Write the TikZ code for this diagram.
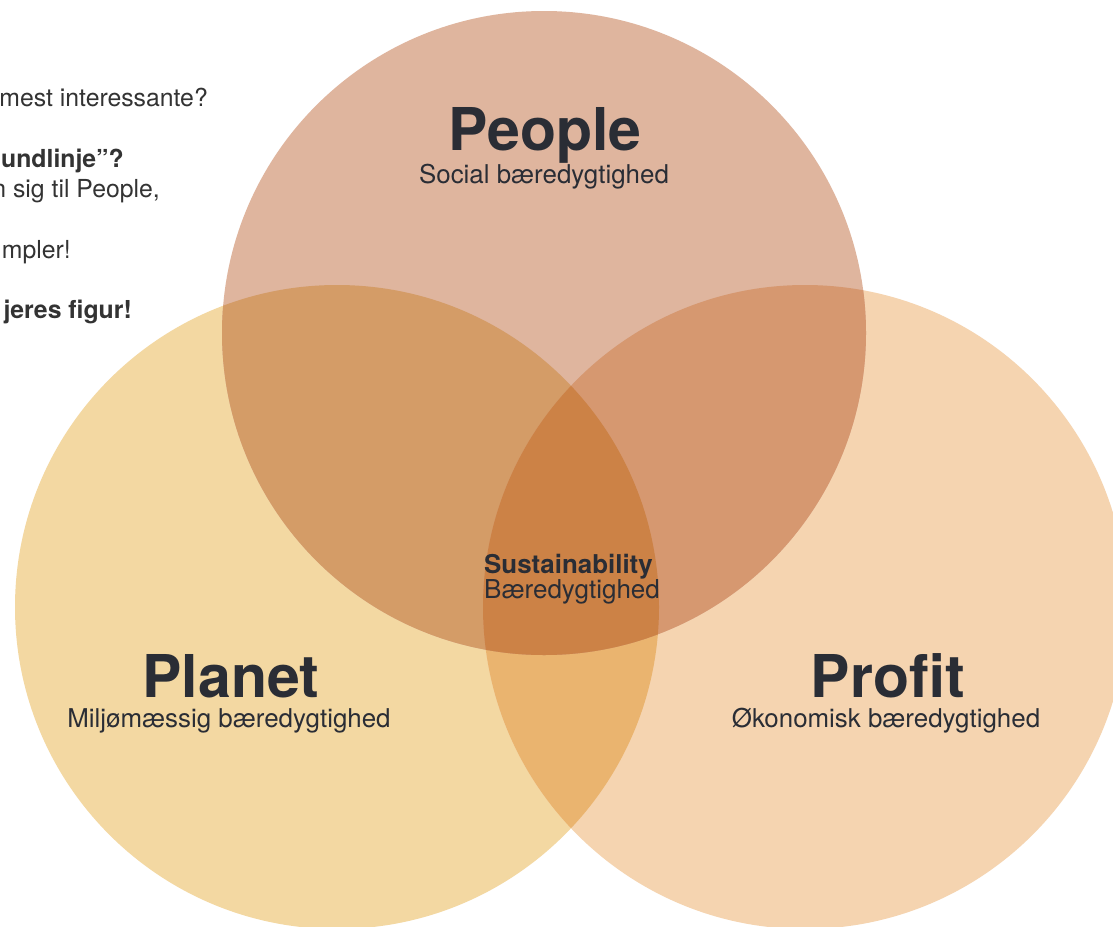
\documentclass[tikz,border=0pt]{standalone}
\usepackage{fontspec}
\setmainfont{TeX Gyre Heros}
\definecolor{peopleC}{HTML}{DFB59E}
\definecolor{planetC}{HTML}{F3D8A2}
\definecolor{profitC}{HTML}{F5D4B0}
\definecolor{peplanC}{HTML}{D49C67}
\definecolor{peprofC}{HTML}{D69870}
\definecolor{plprofC}{HTML}{EAB46F}
\definecolor{centerC}{HTML}{CC8246}
\definecolor{txtC}{HTML}{2A2D35}
\definecolor{sideC}{HTML}{333333}
\tikzset{
  big/.style={font=\fontsize{59}{61}\selectfont\bfseries, text=txtC, inner sep=0pt, anchor=base},
  sub/.style={font=\fontsize{25.9}{28}\selectfont, text=txtC, inner sep=0pt, anchor=base},
  midb/.style={font=\fontsize{25.9}{28}\selectfont\bfseries, text=txtC, inner sep=0pt, anchor=base west},
  midr/.style={font=\fontsize{26}{28}\selectfont, text=txtC, inner sep=0pt, anchor=base west},
  side/.style={font=\fontsize{24.8}{27}\selectfont, text=sideC, inner sep=0pt, anchor=base east},
  sideb/.style={side, font=\fontsize{24.8}{27}\selectfont\bfseries}
}
\begin{document}
\begin{tikzpicture}[x=1pt,y=-1pt]
\useasboundingbox (0,0) rectangle (1113,926);
\fill[white] (0,0) rectangle (1113,926);
\clip (0,0) rectangle (1113,926);
\coordinate (cPeople) at (544,333);
\coordinate (cPlanet) at (337,607);
\coordinate (cProfit) at (805,607);
% single circles
\fill[planetC] (cPlanet) circle[radius=322pt];
\fill[profitC] (cProfit) circle[radius=322pt];
\fill[peopleC] (cPeople) circle[radius=322pt];
% pairwise overlaps
\begin{scope}
  \clip (cPlanet) circle[radius=322pt];
  \fill[plprofC] (cProfit) circle[radius=322pt];
  \fill[peplanC] (cPeople) circle[radius=322pt];
\end{scope}
\begin{scope}
  \clip (cProfit) circle[radius=322pt];
  \fill[peprofC] (cPeople) circle[radius=322pt];
\end{scope}
% triple overlap
\begin{scope}
  \clip (cPlanet) circle[radius=322pt];
  \clip (cProfit) circle[radius=322pt];
  \fill[centerC] (cPeople) circle[radius=322pt];
\end{scope}
% labels
\node[big] (people) at (545,150) {People};
\node[sub] (peopleSub) at (544,183) {Social bæredygtighed};
\node[big] (planet) at (231,697) {Planet};
\node[sub] (planetSub) at (229,727) {Miljømæssig bæredygtighed};
\node[big] (profit) at (888,697) {Profit};
\node[sub] (profitSub) at (886,727) {Økonomisk bæredygtighed};
\node[midb] (sust) at (484,573) {Sustainability};
\node[midr] (sustSub) at (484,598) {Bæredygtighed};
% side text (cut off at left edge)
\node[side] (s1) at (208,106) {mest interessante?};
\node[sideb] (s2) at (124,167) {undlinje”?};
\node[side] (s3) at (160,197) {n sig til People,};
\node[side] (s4) at (71,258) {mpler!};
\node[sideb] (s5) at (132,318) {jeres figur!};
\end{tikzpicture}
\end{document}
